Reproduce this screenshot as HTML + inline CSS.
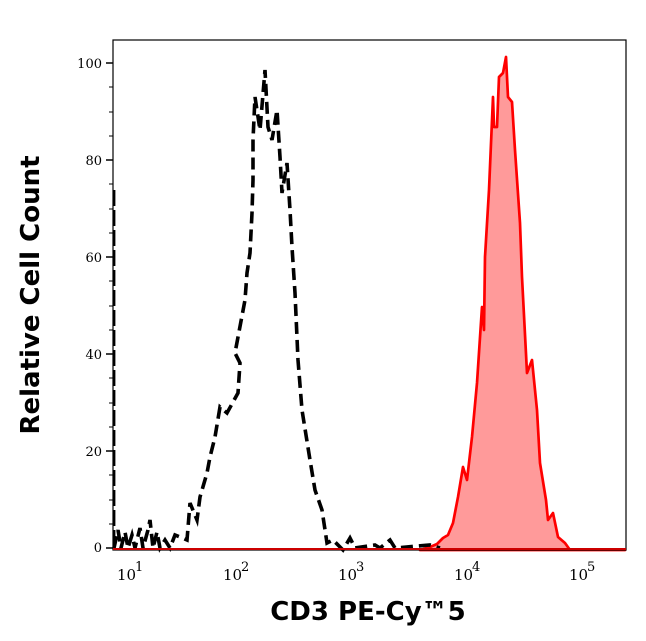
<!DOCTYPE html>
<html><head><meta charset="utf-8"><style>
html,body{margin:0;padding:0;background:#fff;}
svg{display:block;}
</style></head><body>
<svg width="646" height="641" viewBox="0 0 646 641" xmlns="http://www.w3.org/2000/svg">
<path d="M420,550 L430,547 L437,544 L443,538 L448,535 L453,523 L458,497 L463,467 L467,480 L472,437 L477,383 L482,307 L484,330 L485,257 L489,190 L493,97 L494,127 L497,127 L499,77 L503,73 L506,57 L508,97 L512,102 L515,150 L520,223 L522,277 L527,373 L532,360 L537,410 L540,463 L546,500 L548,520 L553,513 L558,537 L565,543 L570,550 L625,550 Z" fill="#ff9a9a" stroke="#ff0000" stroke-width="2.7" stroke-linejoin="round"/>
<path d="M114,548 L118,530 L121,548 L125,532 L128,548 L132,535 L135,548 L140,528 L143,548 L148,530 L150,520 L153,548 L157,532 L160,548 L165,540 L170,548 L175,535 L180,537 L187,540 L190,503 L197,520 L200,497 L207,473 L210,457 L215,437 L220,407 L227,413 L238,393 L240,363 L235,353 L245,300 L247,273 L250,253 L252,213 L253,180 L253,140 L255,97 L260,130 L265,70 L268,127 L272,140 L277,110 L280,157 L282,193 L287,163 L290,210 L292,247 L295,293 L298,360 L302,410 L310,460 L315,490 L322,510 L327,543 L333,540 L343,550 L350,538 L355,548 L375,545 L380,548 L390,540 L395,548 L430,545 L440,548" fill="none" stroke="#000" stroke-width="3.6" stroke-dasharray="12,6"/>
<line x1="114" y1="190" x2="114" y2="548" stroke="#000" stroke-width="2.8" stroke-dasharray="16,4"/>
<rect x="113" y="40" width="513" height="510" fill="none" stroke="#000" stroke-width="1.2"/>
<line x1="113" y1="549" x2="626" y2="549" stroke="#cc0000" stroke-width="2"/>
<g stroke="#000" stroke-width="1.5">
<line x1="106" y1="63" x2="113" y2="63"/><line x1="106" y1="160" x2="113" y2="160"/><line x1="106" y1="257" x2="113" y2="257"/><line x1="106" y1="354" x2="113" y2="354"/><line x1="106" y1="451" x2="113" y2="451"/><line x1="106" y1="548" x2="113" y2="548"/>
</g>
<g stroke="#000" stroke-width="1">
<line x1="109" y1="87" x2="113" y2="87"/><line x1="109" y1="112" x2="113" y2="112"/><line x1="109" y1="136" x2="113" y2="136"/>
<line x1="109" y1="184" x2="113" y2="184"/><line x1="109" y1="209" x2="113" y2="209"/><line x1="109" y1="233" x2="113" y2="233"/>
<line x1="109" y1="281" x2="113" y2="281"/><line x1="109" y1="306" x2="113" y2="306"/><line x1="109" y1="330" x2="113" y2="330"/>
<line x1="109" y1="378" x2="113" y2="378"/><line x1="109" y1="403" x2="113" y2="403"/><line x1="109" y1="427" x2="113" y2="427"/>
<line x1="109" y1="475" x2="113" y2="475"/><line x1="109" y1="500" x2="113" y2="500"/><line x1="109" y1="524" x2="113" y2="524"/>
</g>
<g font-family="DejaVu Serif, serif" font-size="13" text-anchor="end" fill="#000">
<text x="102" y="68">100</text><text x="102" y="165">80</text><text x="102" y="262">60</text><text x="102" y="359">40</text><text x="102" y="456">20</text><text x="102" y="552">0</text>
</g>
<g stroke="#000" stroke-width="1.5" id="xt"></g>
<g font-family="DejaVu Serif, serif" font-size="15" fill="#000">
<text x="117" y="580">10</text><text x="135" y="571" font-size="13">1</text>
<text x="223" y="580">10</text><text x="241" y="571" font-size="13">2</text>
<text x="338" y="580">10</text><text x="356" y="571" font-size="13">3</text>
<text x="454" y="580">10</text><text x="472" y="571" font-size="13">4</text>
<text x="569" y="580">10</text><text x="587" y="571" font-size="13">5</text>
</g>
<text x="368" y="620" font-family="DejaVu Sans, sans-serif" font-weight="bold" font-size="26" text-anchor="middle">CD3 PE-Cy™5</text>
<text transform="translate(39,295) rotate(-90)" font-family="DejaVu Sans, sans-serif" font-weight="bold" font-size="26" text-anchor="middle">Relative Cell Count</text>
<script>
var g=document.getElementById('xt'),s='';
var x0=113.5,d=115.5;
for(var k=0;k<5;k++){for(var m=1;m<10;m++){var x=x0+d*(k+Math.log10(m));if(x>626)break;var L=(m==1)?7:4;
s+='<line x1="'+x.toFixed(1)+'" y1="550" x2="'+x.toFixed(1)+'" y2="'+(550+L)+'"/>';}}
g.innerHTML=s;
</script>
</svg>
</body></html>
